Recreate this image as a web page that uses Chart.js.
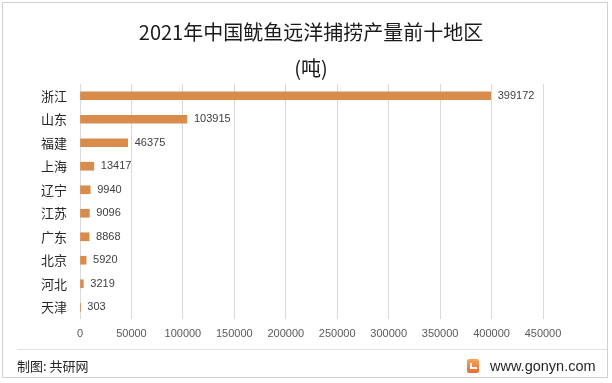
<!DOCTYPE html>
<html>
<head>
<meta charset="utf-8">
<script src="https://cdn.jsdelivr.net/npm/chart.js@4.4.1/dist/chart.umd.min.js"></script>
<style>
  html, body { margin: 0; padding: 0; background: #fff; }
  #wrap { position: relative; width: 612px; height: 383px; overflow: hidden; background: #fff; }
  #frame { position: absolute; left: 2px; top: 2px; width: 606px; height: 376px; border: 1px solid #d0d0d0; box-sizing: border-box; }
  canvas { position: absolute; left: 0; top: 0; }
  .t { position: absolute; white-space: nowrap; font-family: "Noto Sans CJK SC", "Noto Sans", sans-serif; color: #1a1a1a; }
  #title1 { left: 0; width: 622px; text-align: center; top: 18px; font-size: 20px; line-height: 28px; }
  #title2 { left: 0; width: 622px; text-align: center; top: 54px; font-size: 20px; line-height: 28px; }
  #fline { position: absolute; left: 17px; width: 590px; top: 349px; height: 1px; background: #e0e0e0; }
  #src { left: 17px; top: 357px; font-size: 13px; line-height: 18px; color: #262626; }
  #site { left: 490px; top: 356px; font-size: 14.5px; line-height: 20px; color: #262626; font-family: "Liberation Sans", "Noto Sans", sans-serif; }
  #logo { position: absolute; left: 467px; top: 359px; width: 12px; height: 14px; border-radius: 2px; background: linear-gradient(180deg, #f6a45a, #ec6a2c); }
  #logo:after { content: ""; position: absolute; left: 3px; top: 4px; width: 7px; height: 6px; border-left: 2px solid #fff; border-bottom: 2px solid #fff; box-sizing: border-box; }
</style>
</head>
<body>
<div id="wrap">
  <div id="frame"></div>
  <canvas id="c" width="612" height="383"></canvas>
  <div class="t" id="title1">2021年中国鱿鱼远洋捕捞产量前十地区</div>
  <div class="t" id="title2">(吨)</div>
  <div id="fline"></div>
  <div class="t" id="src">制图: 共研网</div>
  <div id="logo"></div>
  <div class="t" id="site">www.gonyn.com</div>
</div>
<script>
const categories = ["浙江", "山东", "福建", "上海", "辽宁", "江苏", "广东", "北京", "河北", "天津"];
const values = [399172, 103915, 46375, 13417, 9940, 9096, 8868, 5920, 3219, 303];
const xMax = 450000;
const xStep = 50000;

const valueLabels = {
  id: 'valueLabels',
  afterDatasetsDraw(chart) {
    const ctx = chart.ctx;
    const meta = chart.getDatasetMeta(0);
    ctx.save();
    ctx.font = '11px "Liberation Sans", "Noto Sans", sans-serif';
    ctx.fillStyle = '#404040';
    ctx.textAlign = 'left';
    ctx.textBaseline = 'middle';
    meta.data.forEach((bar, i) => {
      ctx.fillText(String(values[i]), bar.x + 7, bar.y);
    });
    ctx.restore();
  }
};

new Chart(document.getElementById('c'), {
  type: 'bar',
  data: {
    labels: categories,
    datasets: [{
      data: values,
      backgroundColor: '#D78C4C',
      borderWidth: 0,
      barThickness: 8
    }]
  },
  options: {
    indexAxis: 'y',
    responsive: false,
    animation: false,
    devicePixelRatio: 1,
    layout: { padding: { top: 84, bottom: 40, left: 0, right: 69 } },
    plugins: { legend: { display: false }, title: { display: false }, tooltip: { enabled: false } },
    scales: {
      x: {
        min: 0, max: xMax,
        ticks: { stepSize: xStep, padding: 8, color: '#595959', font: { family: '"Liberation Sans", "Noto Sans", sans-serif', size: 11 },
                 callback: (v) => String(v) },
        grid: { color: '#d9d9d9', drawTicks: false },
        border: { display: false },
        afterFit(s) { s.height = 24; }
      },
      y: {
        ticks: { padding: 13, color: '#262626', font: { family: '"Noto Sans CJK SC", sans-serif', size: 13 } },
        grid: { display: false, drawTicks: false },
        border: { display: false },
        afterFit(s) { s.width = 80; }
      }
    }
  },
  plugins: [valueLabels]
});
</script>
</body>
</html>
